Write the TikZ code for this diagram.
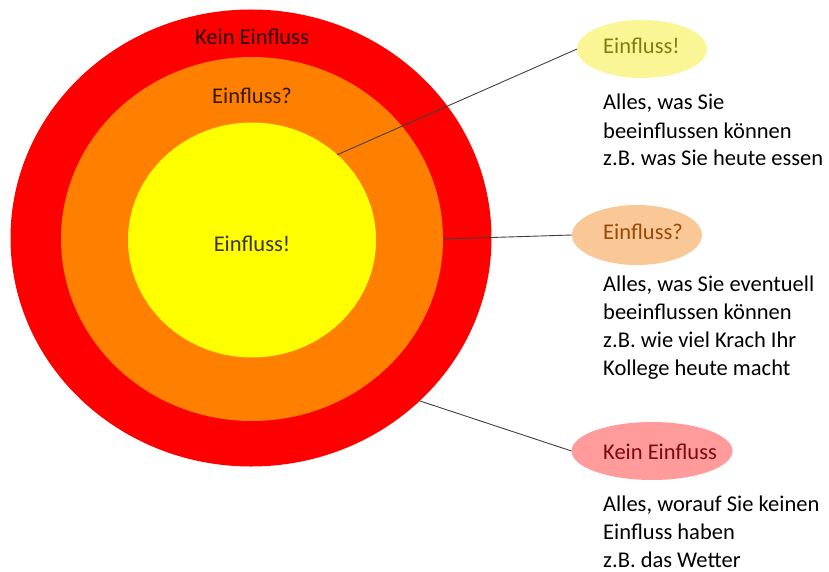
\documentclass[tikz,border=0pt]{standalone}
\usepackage{fontspec}
\setmainfont{Carlito}
\usetikzlibrary{shapes.geometric}

\definecolor{ringred}{HTML}{FF0000}
\definecolor{ringorange}{HTML}{FF8000}
\definecolor{ringyellow}{HTML}{FFFF00}
\definecolor{bubyellow}{HTML}{FAF696}
\definecolor{buborange}{HTML}{FAC896}
\definecolor{bubred}{HTML}{FF9B9B}
\definecolor{txtyellow}{HTML}{7F7F10}
\definecolor{txtorange}{HTML}{974806}
\definecolor{txtred}{HTML}{7A0A0A}
\definecolor{linegray}{HTML}{404040}

\begin{document}
\begin{tikzpicture}[x=1pt, y=-1pt,
  ring/.style={ellipse, inner sep=0pt, outer sep=0pt},
  bubble/.style={ellipse, inner sep=0pt, outer sep=0pt},
  lbl/.style={anchor=base west, inner sep=0pt, align=left},
  font=\fontsize{22.5}{28}\selectfont]

  \useasboundingbox (0,0) rectangle (829,572);

  % Kreise
  \node[ring, fill=ringred, minimum width=481pt, minimum height=457pt] (kein) at (251,238) {};
  \node[ring, fill=ringorange, minimum width=382pt, minimum height=364pt] (vielleicht) at (252,239) {};
  \node[ring, fill=ringyellow, minimum width=248pt, minimum height=235pt] (einfluss) at (252,240) {};

  \node[anchor=base, inner sep=0pt, text=black!85!red] (keinTxt) at (252,45) {Kein Einfluss};
  \node[anchor=base, inner sep=0pt, text=black!80!orange] (vielleichtTxt) at (252,104) {Einfluss?};
  \node[anchor=base, inner sep=0pt, text=black!80!olive] (einflussTxt) at (252,251) {Einfluss!};

  % Blasen rechts
  \node[bubble, fill=bubyellow, minimum width=130pt, minimum height=58pt] (bubGelb) at (642,49) {};
  \node[bubble, fill=buborange, minimum width=130pt, minimum height=60pt] (bubOrange) at (637,235) {};
  \node[bubble, fill=bubred, minimum width=161pt, minimum height=58pt] (bubRot) at (652,451) {};

  \node[lbl, text=txtyellow] (gelbTxt) at (603,54) {Einfluss!};
  \node[lbl, text=txtorange] (orangeTxt) at (603,239) {Einfluss?};
  \node[lbl, text=txtred] (rotTxt) at (603,459) {Kein Einfluss};

  % Verbindungen
  \draw[linegray, line width=0.9pt] (einfluss.45) -- (bubGelb.west);
  \draw[linegray, line width=0.9pt] (vielleicht.east) -- (bubOrange.west);
  \draw[linegray, line width=0.9pt] (kein.-44) -- (bubRot.west);

  % Erklaerungen (base = letzte Zeile)
  \node[lbl] (gelbInfo) at (603,166) {Alles, was Sie\\beeinflussen können\\z.B. was Sie heute essen};
  \node[lbl] (orangeInfo) at (603,375) {Alles, was Sie eventuell\\beeinflussen können\\z.B. wie viel Krach Ihr\\Kollege heute macht};
  \node[lbl] (rotInfo) at (603,567) {Alles, worauf Sie keinen\\Einfluss haben\\z.B. das Wetter};
\end{tikzpicture}
\end{document}
